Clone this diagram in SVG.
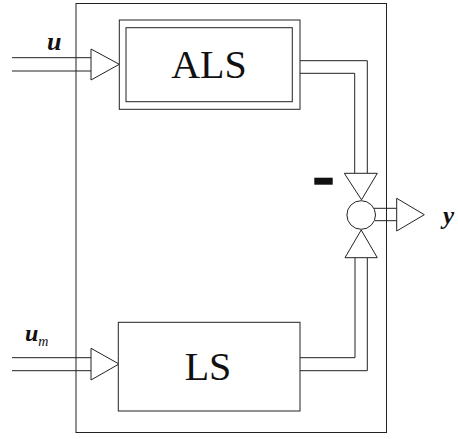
<svg xmlns="http://www.w3.org/2000/svg" width="458" height="439" viewBox="0 0 458 439">
<style>
.ln{fill:none;stroke:#222;stroke-width:1}
.hd{fill:#fff;stroke:#222;stroke-width:1;stroke-linejoin:miter}
.box{fill:#fff;stroke:#222;stroke-width:1}
.big{font-family:"Liberation Serif","Times New Roman",serif;font-size:40px;fill:#111;text-anchor:middle}
.lab{font-family:"Liberation Serif","Times New Roman",serif;font-weight:bold;font-style:italic;fill:#111}
</style>
<rect width="458" height="439" fill="#fff"/>
<g id="frame"><rect class="ln" x="76" y="3.5" width="310.5" height="429"/></g>
<g id="connectors">
  <path class="ln" d="M12 57.7H91M12 71H91"/>
  <polygon class="hd" points="91,49 119.3,64.3 91,80"/>
  <path class="ln" d="M12 357.7H91M12 370.7H91"/>
  <polygon class="hd" points="91,348.3 119,364 91,380"/>
  <path class="ln" d="M300 60.7H367.3V173.3M300 73.3H354.7V173.3"/>
  <polygon class="hd" points="344.3,173.3 377.3,173.3 361.5,199.8"/>
  <path class="ln" d="M300 357.7H355V257.7M300 370.7H367.3V257.7"/>
  <polygon class="hd" points="345,257.7 377.3,257.7 361.2,230"/>
  <path class="ln" d="M373.5 208.3H396.7M375 220.7H396.7"/>
  <polygon class="hd" points="396.7,198.3 424.3,214.7 396.7,231"/>
  <rect x="314.3" y="177.7" width="18.4" height="7" fill="#111"/>
</g>
<g id="ALS">
  <rect class="box" x="119.3" y="20" width="180.7" height="89.3"/>
  <rect class="ln" x="126" y="27.7" width="166.3" height="74"/>
  <text class="big" x="209" y="78.3">ALS</text>
</g>
<g id="LS">
  <rect class="box" x="118.3" y="322.3" width="181.7" height="88.7"/>
  <text class="big" x="208" y="380">LS</text>
</g>
<g id="sum"><circle class="box" cx="361.2" cy="215" r="14.3"/></g>
<g id="labels">
  <text class="lab" x="47" y="50" font-size="26">u</text>
  <text class="lab" x="25" y="340.5" font-size="24">u<tspan font-size="14" font-weight="normal" dy="5.5">m</tspan></text>
  <text class="lab" x="443" y="224" font-size="25">y</text>
</g>
</svg>
